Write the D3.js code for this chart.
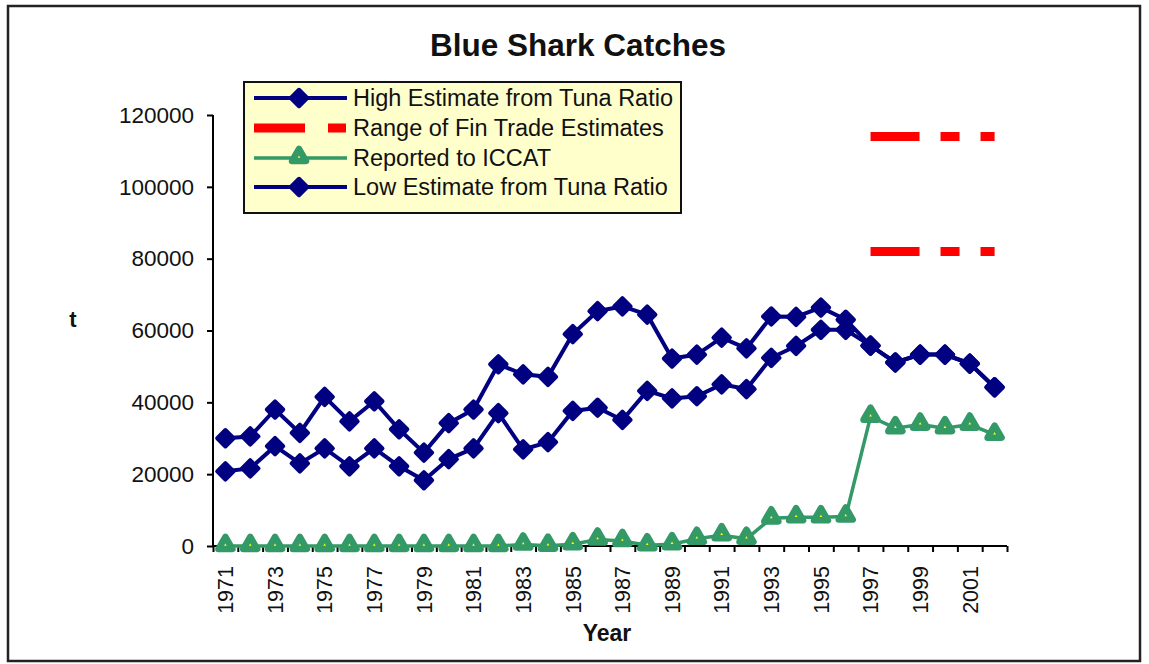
<!DOCTYPE html>
<html>
<head>
<meta charset="utf-8">
<script src="https://cdn.jsdelivr.net/npm/d3@7/dist/d3.min.js"></script>
<style>
  html, body { margin: 0; padding: 0; background: #fff; }
  svg { display: block; font-family: "Liberation Sans", Arial, sans-serif; }
</style>
</head>
<body>
<svg id="chart" width="1149" height="664"></svg>
<script>
// ---------- data ----------
const years = d3.range(1971, 2003);
const highEstimate = [30000, 30500, 38000, 31500, 41500, 34700, 40300, 32500, 26000, 34200, 38000,
  50600, 47800, 47100, 59000, 65400, 66700, 64400, 52200, 53300, 58000, 55000, 63900, 63800,
  66400, 63000, 55800, 51100, 53300, 53300, 50800, 44200];
const lowEstimate = [20800, 21600, 27800, 23000, 27200, 22200, 27200, 22200, 18300, 24200, 27200,
  37000, 26900, 28900, 37600, 38500, 35100, 43200, 41100, 41700, 45000, 43700, 52400, 55700,
  60200, 60200, 55800, 51100, 53300, 53300, 50800, 44200];
const reportedICCAT = [0, 0, 0, 0, 0, 0, 0, 0, 0, 0, 0,
  0, 400, 100, 500, 1800, 1400, 200, 500, 2000, 3000, 2000, 7700, 8000,
  8000, 8200, 36000, 32800, 33800, 32800, 33800, 31000];
const finYears = [1997, 1998, 1999, 2000, 2001, 2002];
const finTradeHigh = [114000, 114000, 114000, 114000, 114000, 114000];
const finTradeLow = [82000, 82000, 82000, 82000, 82000, 82000];
const yTicks = [0, 20000, 40000, 60000, 80000, 100000, 120000];
const xLabelYears = d3.range(1971, 2003, 2);
const seriesNames = ["High Estimate from Tuna Ratio", "Range of Fin Trade Estimates",
  "Reported to ICCAT", "Low Estimate from Tuna Ratio"];
const titleText = "Blue Shark Catches";

// ---------- styles ----------
const NAVY = "#000080", GREEN = "#339966", RED = "#ff0000", YELLOW = "#ffff00";
const svg = d3.select("#chart");

// outer frame
svg.append("rect").attr("x", 8).attr("y", 6).attr("width", 1132).attr("height", 655)
  .attr("fill", "#fff").attr("stroke", "#222").attr("stroke-width", 2.5);

// scales
const x = d3.scaleBand().domain(years).range([213, 1007]).padding(0);
const xc = d => x(d) + x.bandwidth() / 2;
const xEdge = d3.scaleLinear().domain([1970.5, 2002.5]).range([213, 1007]);
const y = d3.scaleLinear().domain([0, 120000]).range([546, 115]);

// title
svg.append("text").attr("x", 578).attr("y", 56).attr("text-anchor", "middle")
  .attr("font-size", 31.5).attr("font-weight", "bold").attr("fill", "#111").text(titleText);

// y axis
const yAxis = svg.append("g").attr("transform", "translate(213,0)")
  .call(d3.axisLeft(y).tickValues(yTicks).tickSize(6).tickPadding(13).tickFormat(d3.format("d")));
yAxis.select(".domain").attr("stroke", "#000").attr("stroke-width", 2).attr("d", `M0,${y(120000)}V${y(0)}`);
yAxis.selectAll(".tick line").attr("stroke", "#000").attr("stroke-width", 2);
yAxis.selectAll("text").attr("font-size", 22.5).attr("fill", "#111").attr("font-family", "Liberation Sans, Arial");

// x axis (ticks at category edges)
const xAxis = svg.append("g").attr("transform", `translate(0,${y(0)})`)
  .call(d3.axisBottom(xEdge).tickValues(d3.range(1970.5, 2003, 1)).tickSize(6).tickFormat(""));
xAxis.select(".domain").attr("stroke", "#000").attr("stroke-width", 2).attr("d", `M213,0H1007`);
xAxis.selectAll(".tick line").attr("stroke", "#000").attr("stroke-width", 2);

// x labels
const xLab = svg.append("g").attr("transform", `translate(0,${y(0)})`)
  .call(d3.axisBottom(x).tickValues(xLabelYears).tickSize(0).tickPadding(0));
xLab.select(".domain").remove();
xLab.selectAll("text").attr("font-size", 21.5).attr("fill", "#111").attr("font-family", "Liberation Sans, Arial")
  .attr("text-anchor", "end").attr("transform", "rotate(-90)").attr("x", -20).attr("y", 0).attr("dy", "0.36em");

// axis titles
svg.append("text").attr("x", 73).attr("y", 327).attr("text-anchor", "middle")
  .attr("font-size", 22).attr("font-weight", "bold").attr("fill", "#111").text("t");
svg.append("text").attr("x", 607).attr("y", 641).attr("text-anchor", "middle")
  .attr("font-size", 23).attr("font-weight", "bold").attr("fill", "#111").text("Year");

// ---------- marks ----------
const line = d3.line().x((d, i) => xc(years[i])).y(d => y(d));
const diamond = d3.symbol().type(d3.symbolSquare).size(135);
const tri = d3.symbol().type(d3.symbolTriangle).size(85);

// fin trade range
function finLine(vals) {
  const l = d3.line().x((d, i) => xc(finYears[i])).y(d => y(d));
  svg.append("path").attr("d", l(vals)).attr("fill", "none").attr("stroke", RED)
    .attr("stroke-width", 9).attr("stroke-dasharray", "49,21,19,21");
}
finLine(finTradeHigh);
finLine(finTradeLow);

// green ICCAT
svg.append("path").attr("d", line(reportedICCAT)).attr("fill", "none").attr("stroke", GREEN).attr("stroke-width", 3.5);
svg.append("g").selectAll("path").data(reportedICCAT).join("path")
  .attr("d", tri).attr("transform", (d, i) => `translate(${xc(years[i])},${y(d) - 1})`)
  .attr("fill", YELLOW).attr("stroke", GREEN).attr("stroke-width", 6.5).attr("stroke-linejoin", "round");

// navy estimates
function navySeries(vals) {
  svg.append("path").attr("d", line(vals)).attr("fill", "none").attr("stroke", NAVY).attr("stroke-width", 4);
  svg.append("g").selectAll("path").data(vals).join("path")
    .attr("d", diamond).attr("transform", (d, i) => `translate(${xc(years[i])},${y(d)}) rotate(45)`)
    .attr("fill", NAVY).attr("stroke", NAVY).attr("stroke-width", 4).attr("stroke-linejoin", "round");
}
navySeries(lowEstimate);
navySeries(highEstimate);

// ---------- legend ----------
const lg = svg.append("g");
lg.append("rect").attr("x", 244).attr("y", 82).attr("width", 437).attr("height", 131)
  .attr("fill", "#ffffcc").attr("stroke", "#111").attr("stroke-width", 2);
const rowsY = [98, 128, 158, 187];
seriesNames.forEach((name, k) => {
  const cy = rowsY[k];
  if (k === 0 || k === 3) {
    lg.append("line").attr("x1", 254).attr("x2", 347).attr("y1", cy).attr("y2", cy).attr("stroke", NAVY).attr("stroke-width", 4);
    lg.append("path").attr("d", diamond).attr("transform", `translate(299,${cy}) rotate(45)`)
      .attr("fill", NAVY).attr("stroke", NAVY).attr("stroke-width", 4).attr("stroke-linejoin", "round");
  } else if (k === 1) {
    lg.append("line").attr("x1", 254).attr("x2", 346).attr("y1", cy).attr("y2", cy).attr("stroke", RED)
      .attr("stroke-width", 9).attr("stroke-dasharray", "51,23,18,21");
  } else {
    lg.append("line").attr("x1", 254).attr("x2", 347).attr("y1", cy).attr("y2", cy).attr("stroke", GREEN).attr("stroke-width", 3.5);
    lg.append("path").attr("d", tri).attr("transform", `translate(299,${cy - 1})`)
      .attr("fill", YELLOW).attr("stroke", GREEN).attr("stroke-width", 6.5).attr("stroke-linejoin", "round");
  }
  lg.append("text").attr("x", 353).attr("y", cy + 8).attr("font-size", 23.5).attr("fill", "#111").text(name);
});
</script>
</body>
</html>
